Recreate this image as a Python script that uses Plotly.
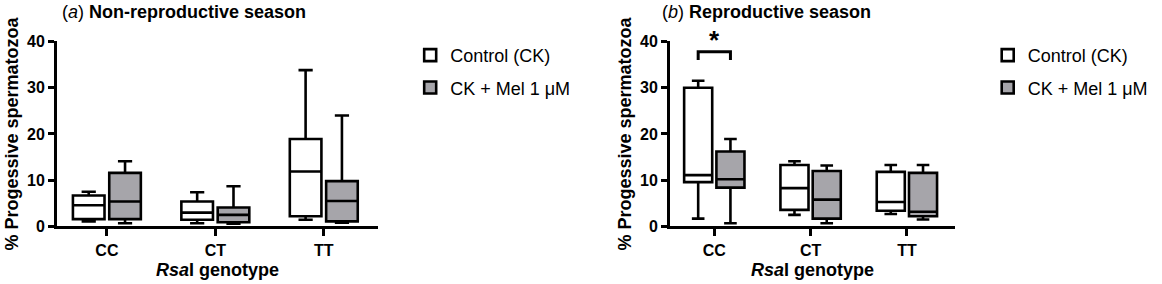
import plotly.graph_objects as go

# ---------------- data ----------------
categories = ["CC", "CT", "TT"]

# (a) Non-reproductive season
ctrl_nr_low = [1.1, 0.7, 1.45]
ctrl_nr_q1 = [1.6, 1.45, 2.2]
ctrl_nr_med = [4.6, 3.0, 11.9]
ctrl_nr_q3 = [6.7, 5.4, 18.9]
ctrl_nr_up = [7.5, 7.4, 33.8]

mel_nr_low = [0.7, 0.6, 0.8]
mel_nr_q1 = [1.6, 0.9, 1.1]
mel_nr_med = [5.4, 2.5, 5.5]
mel_nr_q3 = [11.6, 4.1, 9.8]
mel_nr_up = [14.1, 8.7, 24.0]

# (b) Reproductive season
ctrl_r_low = [1.7, 2.5, 2.7]
ctrl_r_q1 = [9.6, 3.6, 3.4]
ctrl_r_med = [11.1, 8.3, 5.3]
ctrl_r_q3 = [30.0, 13.3, 11.8]
ctrl_r_up = [31.5, 14.1, 13.3]

mel_r_low = [0.7, 0.7, 1.5]
mel_r_q1 = [8.4, 1.7, 2.2]
mel_r_med = [10.2, 5.8, 3.2]
mel_r_q3 = [16.2, 12.0, 11.6]
mel_r_up = [18.9, 13.2, 13.3]

series_names = ["Control (CK)", "CK + Mel 1 \u03bcM"]
y_ticks = [0, 10, 20, 30, 40]
sig_category = "CC"          # significant pair in panel b
sig_bracket = (36.0, 37.8)   # bracket leg bottom / top (value units)

FONT = "Arial, Liberation Sans, sans-serif"
GRAY = "#a6a5aa"
BOXGAP = 0.33
BOXGROUPGAP = 0.13

fig = go.Figure()


def add_box(name, low, q1, med, q3, up, fill, xa, ya, legend, group, offs):
    fig.add_trace(go.Box(
        name=name, x=categories, q1=q1, median=med, q3=q3,
        lowerfence=low, upperfence=up,
        fillcolor=fill, line=dict(color="black", width=2.6),
        whiskerwidth=0.45, boxpoints=False,
        xaxis=xa, yaxis=ya, legend=legend, showlegend=True,
        legendgroup=name + legend, alignmentgroup=group, offsetgroup=offs,
    ))


add_box(series_names[0], ctrl_nr_low, ctrl_nr_q1, ctrl_nr_med, ctrl_nr_q3, ctrl_nr_up,
        "white", "x", "y", "legend", "a", "c")
add_box(series_names[1], mel_nr_low, mel_nr_q1, mel_nr_med, mel_nr_q3, mel_nr_up,
        GRAY, "x", "y", "legend", "a", "m")
add_box(series_names[0], ctrl_r_low, ctrl_r_q1, ctrl_r_med, ctrl_r_q3, ctrl_r_up,
        "white", "x2", "y2", "legend2", "b", "c")
add_box(series_names[1], mel_r_low, mel_r_q1, mel_r_med, mel_r_q3, mel_r_up,
        GRAY, "x2", "y2", "legend2", "b", "m")

tickfont = dict(family=FONT, size=16, color="black", weight="bold")
titlefont = dict(family=FONT, size=18, color="black")

xcommon = dict(type="category", range=[-0.46, 2.5], showline=True, linewidth=3,
               linecolor="black", ticks="outside", ticklen=7, tickwidth=3,
               tickcolor="black", showgrid=False, zeroline=False, tickfont=tickfont,
               automargin=False,
               title=dict(text="<b><i>Rsa</i>I genotype</b>", font=titlefont, standoff=6),
               categoryorder="array", categoryarray=categories)
ycommon = dict(range=[0, 40], tickvals=y_ticks, showline=True, linewidth=3,
               linecolor="black", ticks="outside", ticklen=6, tickwidth=3,
               tickcolor="black", showgrid=False, zeroline=False, tickfont=tickfont,
               automargin=False,
               title=dict(text="<b>% Progessive spermatozoa</b>",
                          font=dict(family=FONT, size=18, color="black"), standoff=4),
               domain=[0.2025, 0.854])

fig.update_layout(
    width=1162, height=284, autosize=False,
    margin=dict(l=0, r=0, t=0, b=0, autoexpand=False),
    paper_bgcolor="white", plot_bgcolor="white",
    boxmode="group", boxgap=BOXGAP, boxgroupgap=BOXGROUPGAP,
    xaxis=dict(domain=[0.04905, 0.3253], anchor="y", **xcommon),
    yaxis=dict(anchor="x", **ycommon),
    xaxis2=dict(domain=[0.5766, 0.8219], anchor="y2", **xcommon),
    yaxis2=dict(anchor="x2", **ycommon),
    legend=dict(x=0.353, y=0.87, xanchor="left", yanchor="top",
                font=dict(family=FONT, size=18, color="black"),
                tracegroupgap=6, bgcolor="rgba(0,0,0,0)"),
    legend2=dict(x=0.850, y=0.87, xanchor="left", yanchor="top",
                 font=dict(family=FONT, size=18, color="black"),
                 tracegroupgap=6, bgcolor="rgba(0,0,0,0)"),
    showlegend=True,
)

# panel titles
fig.add_annotation(text="(<i>a</i>) <b>Non-reproductive season</b>", xref="paper", yref="paper",
                   x=60 / 1162, y=0.958, xanchor="left", yanchor="middle", showarrow=False,
                   font=dict(family=FONT, size=18, color="black"))
fig.add_annotation(text="(<i>b</i>) <b>Reproductive season</b>", xref="paper", yref="paper",
                   x=660 / 1162, y=0.958, xanchor="left", yanchor="middle", showarrow=False,
                   font=dict(family=FONT, size=18, color="black"))

# significance bracket between the two boxes of the CC group (panel b)
slot = (1 - BOXGAP) / 2
ci = categories.index(sig_category)
xa, xb = ci - slot / 2, ci + slot / 2
lo, hi = sig_bracket
fig.add_shape(type="path", xref="x2", yref="y2",
              path=f"M {xa},{lo} L {xa},{hi} L {xb},{hi} L {xb},{lo}",
              line=dict(color="black", width=3))
fig.add_annotation(text="<b>*</b>", xref="x2", yref="y2", x=ci, y=hi + 2.0, yshift=2,
                   xanchor="center", yanchor="middle", showarrow=False,
                   font=dict(family=FONT, size=26, color="black"))

fig.write_html("out.html", config={"displayModeBar": False},
               post_script="document.body.style.margin='0px';document.body.style.overflow='hidden';")
